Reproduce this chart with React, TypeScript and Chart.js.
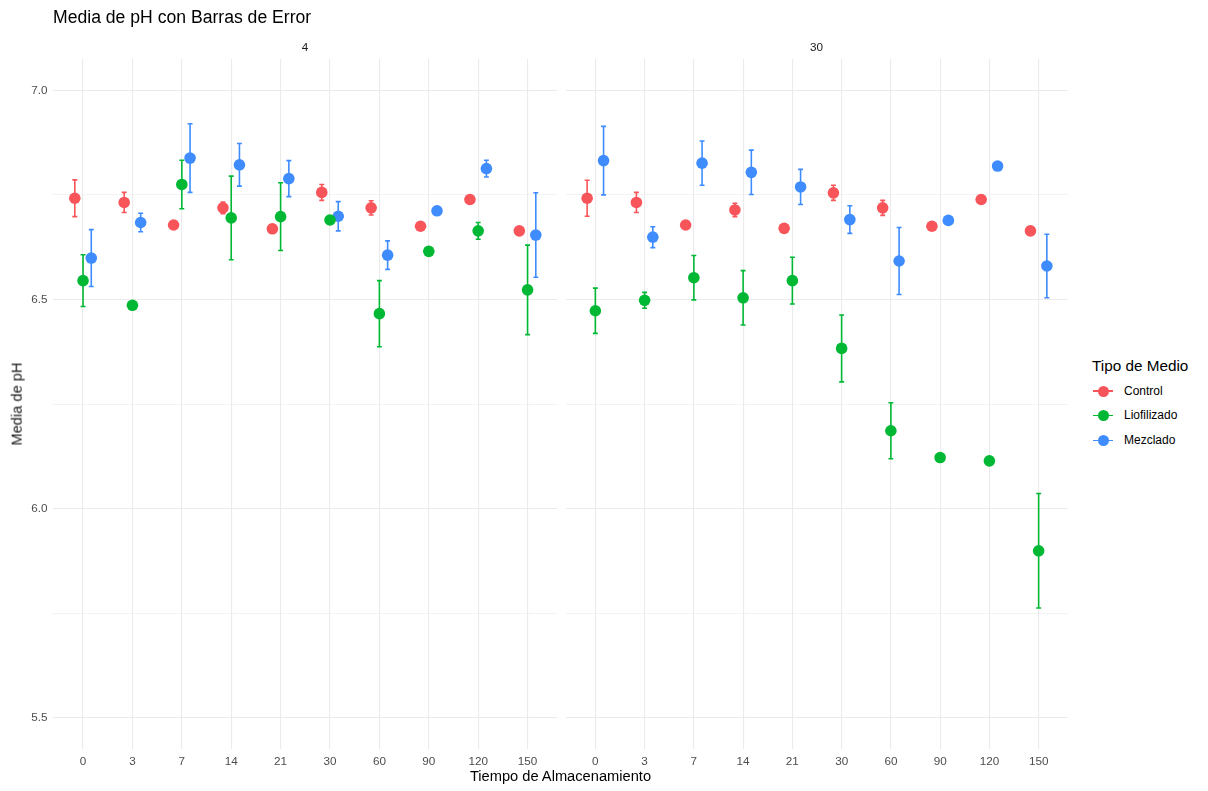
import React, { useEffect, useRef } from "react";
import { Chart, registerables } from "chart.js";

Chart.register(...registerables);

const categories = ["0", "3", "7", "14", "21", "30", "60", "90", "120", "150"];
const panels = ["4", "30"];
const seriesNames = ["Control", "Liofilizado", "Mezclado"];
const seriesColors = ["#F8555B", "#00B834", "#3F8CFF"];
const dodgeOffsets = [-0.1667, 0, 0.1667];

// Panel "4"
const controlMean4 = [6.742, 6.732, 6.678, 6.719, 6.669, 6.756, 6.719, 6.675, 6.739, 6.664];
const controlErr4 = [0.044, 0.024, null, 0.014, null, 0.019, 0.017, null, null, null];
const liofMean4 = [6.545, 6.486, 6.775, 6.695, 6.698, 6.69, 6.466, 6.615, 6.664, 6.523];
const liofErr4 = [0.062, null, 0.058, 0.1, 0.081, null, 0.079, null, 0.02, 0.107];
const mezMean4 = [6.599, 6.684, 6.838, 6.822, 6.789, 6.699, 6.606, 6.712, 6.813, 6.654];
const mezErr4 = [0.068, 0.022, 0.082, 0.051, 0.043, 0.035, 0.034, null, 0.02, 0.101];

// Panel "30"
const controlMean30 = [6.742, 6.732, 6.678, 6.714, 6.67, 6.755, 6.719, 6.675, 6.739, 6.664];
const controlErr30 = [0.043, 0.024, null, 0.016, null, 0.018, 0.018, null, null, null];
const liofMean30 = [6.473, 6.498, 6.552, 6.504, 6.545, 6.383, 6.186, 6.122, 6.114, 5.899];
const liofErr30 = [0.054, 0.019, 0.053, 0.065, 0.056, 0.08, 0.067, null, null, 0.137];
const mezMean30 = [6.832, 6.649, 6.826, 6.804, 6.769, 6.691, 6.592, 6.689, 6.819, 6.58];
const mezErr30 = [0.082, 0.025, 0.053, 0.053, 0.042, 0.033, 0.08, null, null, 0.076];

const yTicks = [5.5, 5.75, 6.0, 6.25, 6.5, 6.75, 7.0];
const yMin = 5.425;
const yMax = 7.075;

const FONT = "'Liberation Sans', Arial, Helvetica, sans-serif";

const errorBarPlugin = {
  id: "errorBars",
  afterDatasetsDraw(chart: any) {
    const ctx = chart.ctx;
    const xs = chart.scales.x;
    const ys = chart.scales.y;
    chart.data.datasets.forEach((ds: any) => {
      const errs = ds.errs as (number | null)[];
      ctx.save();
      ctx.strokeStyle = ds.backgroundColor;
      ctx.lineWidth = 1.6;
      ds.data.forEach((pt: any, i: number) => {
        const e = errs[i];
        if (e == null) return;
        const x = xs.getPixelForValue(pt.x);
        const xl = xs.getPixelForValue(pt.x - 0.05);
        const xr = xs.getPixelForValue(pt.x + 0.05);
        const yt = ys.getPixelForValue(pt.y + e);
        const yb = ys.getPixelForValue(pt.y - e);
        ctx.beginPath();
        ctx.moveTo(x, yt);
        ctx.lineTo(x, yb);
        ctx.moveTo(xl, yt);
        ctx.lineTo(xr, yt);
        ctx.moveTo(xl, yb);
        ctx.lineTo(xr, yb);
        ctx.stroke();
      });
      ctx.restore();
    });
  },
};

function makeDatasets(means: number[][], errs: (number | null)[][]) {
  return seriesNames.map((name, s) => ({
    label: name,
    data: means[s].map((v, i) => ({ x: i + dodgeOffsets[s], y: v })),
    errs: errs[s],
    backgroundColor: seriesColors[s],
    borderColor: seriesColors[s],
    pointRadius: 5.8,
    pointBorderWidth: 0,
    showLine: false,
  }));
}

function Panel({
  means,
  errs,
  showYLabels,
  width,
  yAxisWidth,
}: {
  means: number[][];
  errs: (number | null)[][];
  showYLabels: boolean;
  width: number;
  yAxisWidth: number;
}) {
  const ref = useRef<HTMLCanvasElement | null>(null);
  useEffect(() => {
    if (!ref.current) return;
    const chart = new Chart(ref.current, {
      type: "scatter",
      data: { datasets: makeDatasets(means, errs) as any },
      options: {
        responsive: false,
        animation: false,
        devicePixelRatio: 1,
        layout: { padding: { top: 59, left: 0, right: 0, bottom: 0 } },
        plugins: {
          legend: { display: false },
          tooltip: { enabled: false },
          title: { display: false },
        },
        scales: {
          x: {
            type: "linear",
            min: -0.6,
            max: 9.6,
            afterBuildTicks: (scale: any) => {
              scale.ticks = categories.map((_, i) => ({ value: i }));
            },
            afterFit: (scale: any) => {
              scale.height = 42;
              scale.paddingLeft = 0;
              scale.paddingRight = 0;
            },
            ticks: {
              autoSkip: false,
              maxRotation: 0,
              padding: 0,
              color: "#4D4D4D",
              font: { family: FONT, size: 11.7 },
              callback: (v: any) => categories[Math.round(Number(v))] ?? "",
            },
            grid: {
              color: "#EBEBEB",
              lineWidth: 1.1,
              drawTicks: true,
              tickLength: 6,
              tickColor: "rgba(0,0,0,0)",
            },
            border: { display: false },
          },
          y: {
            type: "linear",
            min: yMin,
            max: yMax,
            afterBuildTicks: (scale: any) => {
              scale.ticks = yTicks.map((v) => ({ value: v }));
            },
            afterFit: (scale: any) => {
              scale.width = yAxisWidth;
              scale.paddingTop = 0;
              scale.paddingBottom = 0;
            },
            ticks: {
              display: showYLabels,
              padding: 6,
              color: "#4D4D4D",
              font: { family: FONT, size: 11.7 },
              callback: (v: any) => {
                const n = Number(v);
                return Math.abs(n * 2 - Math.round(n * 2)) < 1e-6 ? n.toFixed(1) : "";
              },
            },
            grid: {
              drawTicks: false,
              color: "#EBEBEB",
              lineWidth: (c: any) => {
                const n = c.tick ? c.tick.value : 0;
                return Math.abs(n * 2 - Math.round(n * 2)) < 1e-6 ? 1.1 : 0.6;
              },
            },
            border: { display: false },
          },
        },
      },
      plugins: [errorBarPlugin],
    });
    return () => chart.destroy();
  }, []);
  return <canvas ref={ref} width={width} height={791} style={{ display: "block" }} />;
}

export default function App() {
  const textBase: React.CSSProperties = {
    position: "absolute",
    fontFamily: FONT,
    whiteSpace: "nowrap",
    lineHeight: 1,
  };
  return (
    <div
      style={{
        position: "fixed",
        left: 0,
        top: 0,
        width: 1208,
        height: 791,
        background: "#FFFFFF",
        overflow: "hidden",
      }}
    >
      <div style={{ position: "absolute", left: 0, top: 0 }}>
        <Panel
          means={[controlMean4, liofMean4, mezMean4]}
          errs={[controlErr4, liofErr4, mezErr4]}
          showYLabels={true}
          width={563}
          yAxisWidth={53.4}
        />
      </div>
      <div style={{ position: "absolute", left: 560, top: 0 }}>
        <Panel
          means={[controlMean30, liofMean30, mezMean30]}
          errs={[controlErr30, liofErr30, mezErr30]}
          showYLabels={false}
          width={514}
          yAxisWidth={5.4}
        />
      </div>

      {/* Title */}
      <div style={{ ...textBase, left: 53, top: 9, fontSize: 17.6, color: "#000" }}>
        Media de pH con Barras de Error
      </div>

      {/* Strip labels */}
      <div
        style={{
          ...textBase,
          left: 53.4,
          width: 503.2,
          textAlign: "center",
          top: 41,
          fontSize: 11.7,
          color: "#1A1A1A",
        }}
      >
        {panels[0]}
      </div>
      <div
        style={{
          ...textBase,
          left: 565.4,
          width: 502.2,
          textAlign: "center",
          top: 41,
          fontSize: 11.7,
          color: "#1A1A1A",
        }}
      >
        {panels[1]}
      </div>

      {/* Axis titles */}
      <div
        style={{
          ...textBase,
          left: 53.4,
          width: 1014.2,
          textAlign: "center",
          top: 769,
          fontSize: 14.67,
          color: "#000",
        }}
      >
        Tiempo de Almacenamiento
      </div>
      <div
        style={{
          ...textBase,
          left: 17,
          top: 404,
          fontSize: 14.67,
          color: "#1A1A1A",
          transform: "translate(-50%, -50%) rotate(-90deg)",
        }}
      >
        Media de pH
      </div>

      {/* Legend */}
      <div style={{ ...textBase, left: 1092, top: 358, fontSize: 15.3, color: "#000" }}>
        Tipo de Medio
      </div>
      {seriesNames.map((name, i) => (
        <div key={name}>
          <div
            style={{
              position: "absolute",
              left: 1093,
              top: 391 + i * 24.7 - 0.8,
              width: 20,
              height: 1.6,
              background: seriesColors[i],
            }}
          />
          <div
            style={{
              position: "absolute",
              left: 1097.5,
              top: 391 + i * 24.7 - 5.5,
              width: 11,
              height: 11,
              borderRadius: "50%",
              background: seriesColors[i],
            }}
          />
          <div
            style={{
              ...textBase,
              left: 1124,
              top: 391 + i * 24.7 - 6.5,
              fontSize: 12,
              color: "#000",
            }}
          >
            {name}
          </div>
        </div>
      ))}
    </div>
  );
}
